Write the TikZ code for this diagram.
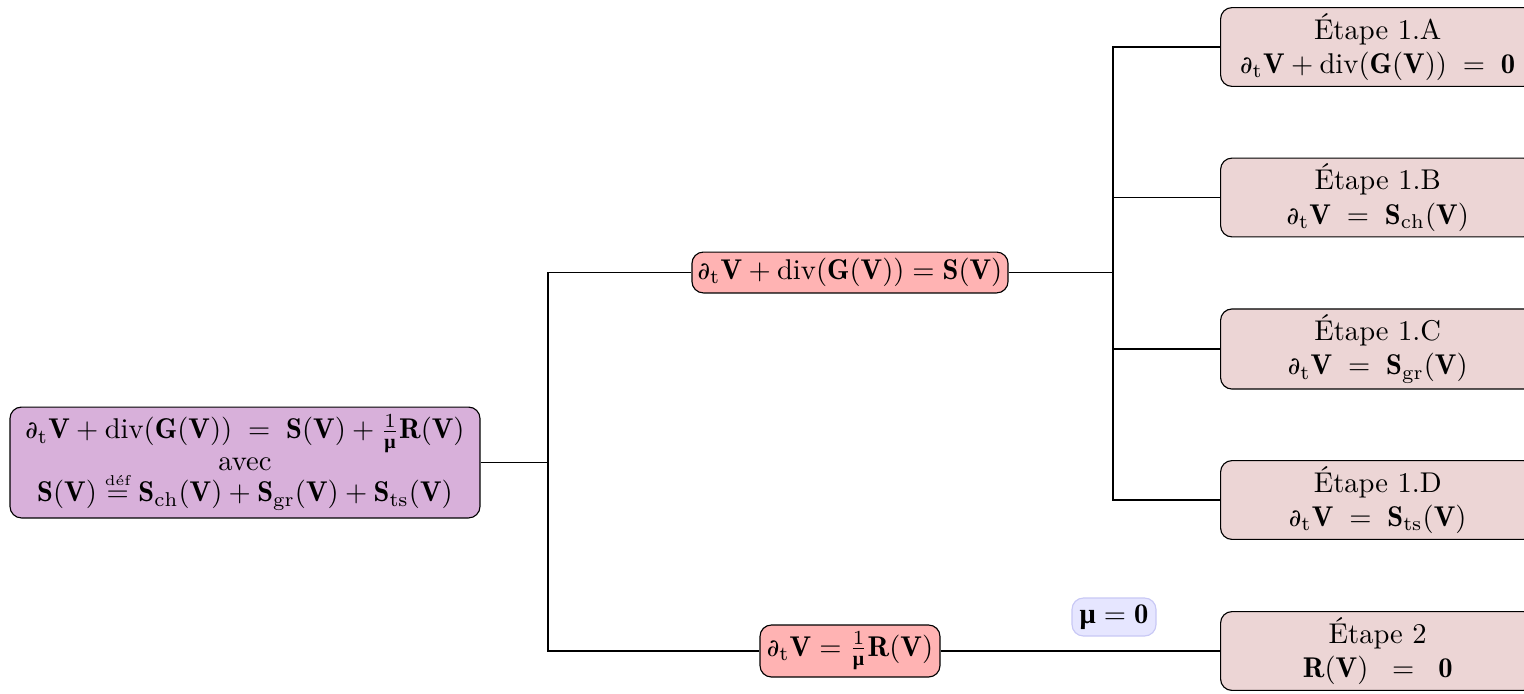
\documentclass[tikz,border=0pt]{standalone}
\usepackage{amsmath}
\usepackage{fontspec}
\newfontfamily\dvs{DejaVu Serif}
\newfontfamily\libs{Liberation Serif}
\newcommand{\dpt}{\text{\dvs\upshape\mdseries\scalebox{0.85}{∂}}}
\newcommand{\bmu}{\text{\libs\bfseries\upshape μ}}
\newcommand{\bV}{\mathbf{V}}
\newcommand{\dtV}{\dpt_{\mathrm{t}}\bV}
\definecolor{leftfill}{RGB}{216,176,218}
\definecolor{midfill}{RGB}{255,179,179}
\definecolor{rightfill}{RGB}{236,213,213}
\definecolor{mufill}{RGB}{230,230,255}
\definecolor{mudraw}{RGB}{200,200,245}
\tikzset{
  box/.style={draw=black, rounded corners=4pt, align=center, inner sep=2pt, font=\normalsize},
  leftbox/.style={box, fill=leftfill, minimum width=164.5pt, minimum height=38.8pt},
  midbox/.style={box, fill=midfill},
  rightbox/.style={box, fill=rightfill, anchor=west, minimum width=110pt, minimum height=27.3pt},
  mubox/.style={draw=mudraw, fill=mufill, rounded corners=4pt, minimum width=29.4pt, minimum height=13.3pt, inner sep=2pt},
  conn/.style={draw=black, line width=0.4pt}
}
\begin{document}
\begin{tikzpicture}[x=0.35pt, y=-0.35pt]
\path[use as bounding box, clip] (0,0) rectangle (1524,693);
\node[leftbox] (L) at (245,462.5) {$\dtV + \operatorname{div}(\mathbf{G}(\bV))\;=\;\mathbf{S}(\bV) + \frac{1}{\bmu}\mathbf{R}(\bV)$\\[-1pt] avec\\[-1pt] $\mathbf{S}(\bV) \stackrel{\text{\tiny déf}}{=} \mathbf{S}_{\mathrm{ch}}(\bV) + \mathbf{S}_{\mathrm{gr}}(\bV) + \mathbf{S}_{\mathrm{ts}}(\bV)$};
\node[midbox, minimum width=108.5pt, minimum height=14.3pt] (M1) at (850,272.5) {$\dtV + \operatorname{div}(\mathbf{G}(\bV)) = \mathbf{S}(\bV)$};
\node[midbox, minimum width=63pt, minimum height=18.2pt] (M2) at (850,651) {$\dtV = \frac{1}{\bmu}\mathbf{R}(\bV)$};
\node[rightbox] (RA) at (1220,47) {Étape 1.A\\ $\dtV + \operatorname{div}(\mathbf{G}(\bV))\; = \;\mathbf{0}$};
\node[rightbox] (RB) at (1220,197.5) {Étape 1.B\\ $\dtV \;=\; \mathbf{S}_{\mathrm{ch}}(\bV)$};
\node[rightbox] (RC) at (1220,349) {Étape 1.C\\ $\dtV \;=\; \mathbf{S}_{\mathrm{gr}}(\bV)$};
\node[rightbox] (RD) at (1220,500) {Étape 1.D\\ $\dtV \;=\; \mathbf{S}_{\mathrm{ts}}(\bV)$};
\node[rightbox] (R2) at (1220,651) {Étape 2\\ $\mathbf{R}(\bV) \;\;=\;\; \mathbf{0}$};
\node[mubox] (mu) at (1114,617) {$\bmu = \mathbf{0}$};
\coordinate (j1) at (548,462.5);
\coordinate (j2) at (1113,272.5);
\draw[conn] (L.east) -- (j1);
\draw[conn] (j1) |- (M1.west);
\draw[conn] (j1) |- (M2.west);
\draw[conn] (M1.east) -- (j2);
\draw[conn] (j2) |- (RA.west);
\draw[conn] (j2) |- (RB.west);
\draw[conn] (j2) |- (RC.west);
\draw[conn] (j2) |- (RD.west);
\draw[conn] (M2.east) -- (R2.west);
\end{tikzpicture}
\end{document}
